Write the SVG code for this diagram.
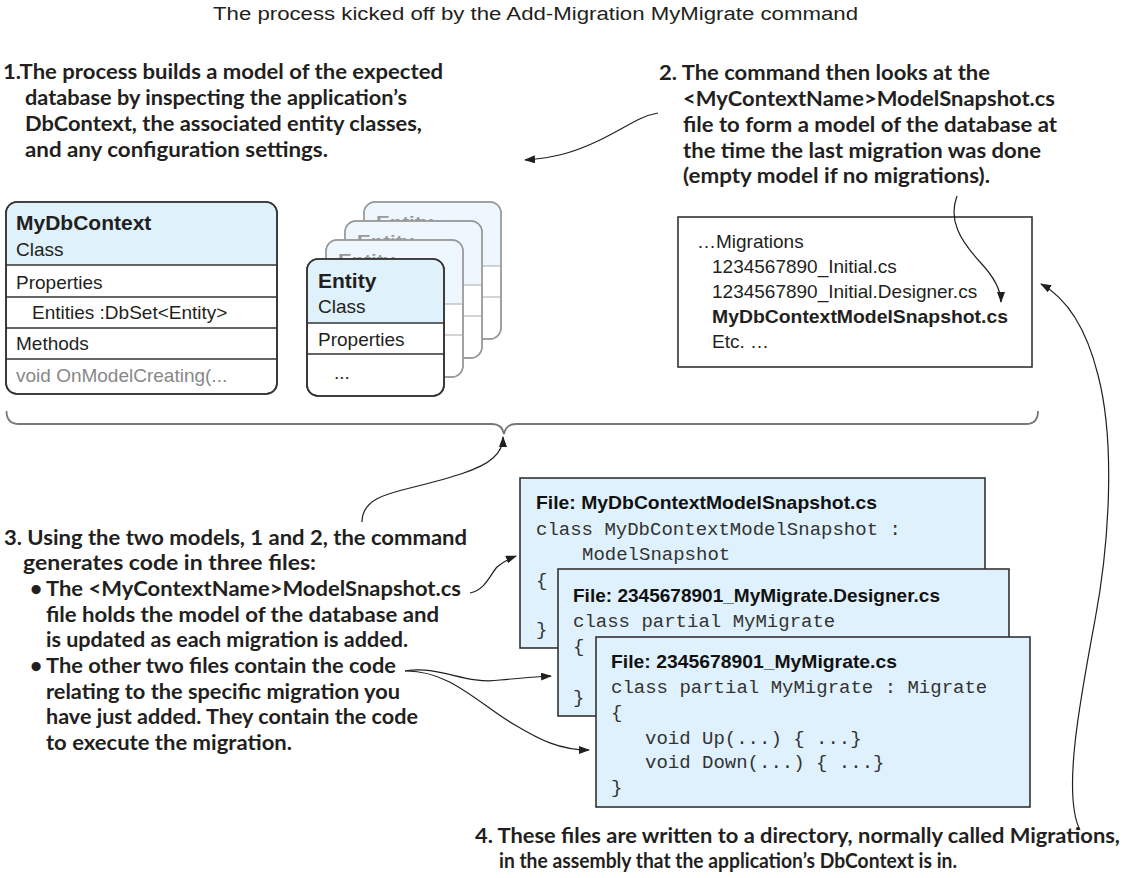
<svg xmlns="http://www.w3.org/2000/svg" width="1131" height="878" viewBox="0 0 1131 878">
<defs>
<style>
.ann{font-family:Lato,"Liberation Sans",sans-serif;font-weight:700;font-size:21px;fill:#231f20}
.ttl{font-family:"Liberation Sans",Arial,sans-serif;font-size:18px;fill:#231f20}
.t{font-family:"Liberation Sans",Arial,sans-serif;font-size:19px;fill:#231f20}
.tb{font-family:"Liberation Sans",Arial,sans-serif;font-size:21px;font-weight:700;fill:#231f20}
.bt{font-family:"Liberation Sans",Arial,sans-serif;font-size:16.5px;font-weight:700;fill:#999}
.fb{font-family:"Liberation Sans",Arial,sans-serif;font-size:19px;font-weight:700;fill:#111}
.m{font-family:"Liberation Mono","Courier New",monospace;font-size:19px;fill:#333}
.gray{fill:#888}
.box{fill:#fff;stroke:#333;stroke-width:1.6}
.hdr{fill:#dff1fb}
.ln{stroke:#333;stroke-width:1.3}
.bbox{fill:#fff;stroke:#999;stroke-width:1.4}
.bhdr{fill:#eef7fd}
.bln{stroke:#aaa;stroke-width:1.2}
.file{fill:#dff1fc;stroke:#333;stroke-width:1.6}
.con{fill:none;stroke:#231f20;stroke-width:1.2}
.brace{fill:none;stroke:#777;stroke-width:1.8}
</style>
<marker id="ah" viewBox="0 0 11 8" refX="10" refY="4" markerWidth="11" markerHeight="8" orient="auto" markerUnits="userSpaceOnUse">
<path d="M0,0 L11,4 L0,8 z" fill="#231f20"/>
</marker>
</defs>
<rect width="1131" height="878" fill="#fff"/>

<text class="ttl" x="213" y="20" textLength="645" lengthAdjust="spacingAndGlyphs">The process kicked off by the Add-Migration MyMigrate command</text>

<g id="note1">
<text class="ann" x="3" y="79" textLength="440" lengthAdjust="spacingAndGlyphs">1.The process builds a model of the expected</text>
<text class="ann" x="25" y="105" textLength="382" lengthAdjust="spacingAndGlyphs">database by inspecting the application’s</text>
<text class="ann" x="25" y="131" textLength="397" lengthAdjust="spacingAndGlyphs">DbContext, the associated entity classes,</text>
<text class="ann" x="25" y="157" textLength="303" lengthAdjust="spacingAndGlyphs">and any configuration settings.</text>
</g>

<g id="note2">
<text class="ann" x="659" y="80" textLength="331" lengthAdjust="spacingAndGlyphs">2. The command then looks at the</text>
<text class="ann" x="683" y="106" textLength="372" lengthAdjust="spacingAndGlyphs">&lt;MyContextName&gt;ModelSnapshot.cs</text>
<text class="ann" x="683" y="132" textLength="374" lengthAdjust="spacingAndGlyphs">file to form a model of the database at</text>
<text class="ann" x="683" y="158" textLength="358" lengthAdjust="spacingAndGlyphs">the time the last migration was done</text>
<text class="ann" x="683" y="183" textLength="307" lengthAdjust="spacingAndGlyphs">(empty model if no migrations).</text>
</g>

<g id="mydbcontext">
<rect class="box" x="6" y="202" width="271" height="192" rx="11"/>
<path class="hdr" d="M6.8,265 V213 A10.2,10.2 0 0 1 17,202.8 H266 A10.2,10.2 0 0 1 276.2,213 V265 Z"/>
<line class="ln" x1="6" y1="265" x2="277" y2="265"/>
<line class="ln" x1="6" y1="297" x2="277" y2="297"/>
<line class="ln" x1="6" y1="328" x2="277" y2="328"/>
<line class="ln" x1="6" y1="359" x2="277" y2="359"/>
<rect x="6" y="202" width="271" height="192" rx="11" fill="none" stroke="#333" stroke-width="1.6"/>
<text class="tb" x="16" y="230">MyDbContext</text>
<text class="t" x="16" y="256">Class</text>
<text class="t" x="16" y="289">Properties</text>
<text class="t" x="32" y="319">Entities :DbSet&lt;Entity&gt;</text>
<text class="t" x="16" y="350">Methods</text>
<text class="t gray" x="16" y="382">void OnModelCreating(...</text>
</g>

<g id="entity-stack">
<g id="entity-back3">
<rect class="bbox" x="364" y="202" width="137" height="137" rx="11"/>
<path class="bhdr" d="M364.7,266 V213 A10.3,10.3 0 0 1 375,202.7 H490 A10.3,10.3 0 0 1 500.3,213 V266 Z"/>
<line class="bln" x1="364" y1="266" x2="501" y2="266"/>
<line class="bln" x1="364" y1="297" x2="501" y2="297"/>
<rect x="364" y="202" width="137" height="137" rx="11" fill="none" stroke="#999" stroke-width="1.4"/>
<text class="bt" x="376" y="228" textLength="57" lengthAdjust="spacingAndGlyphs">Entity</text>
</g>
<g id="entity-back2">
<rect class="bbox" x="345" y="221" width="137" height="137" rx="11"/>
<path class="bhdr" d="M345.7,285 V232 A10.3,10.3 0 0 1 356,221.7 H471 A10.3,10.3 0 0 1 481.3,232 V285 Z"/>
<line class="bln" x1="345" y1="285" x2="482" y2="285"/>
<line class="bln" x1="345" y1="316" x2="482" y2="316"/>
<rect x="345" y="221" width="137" height="137" rx="11" fill="none" stroke="#999" stroke-width="1.4"/>
<text class="bt" x="357" y="247" textLength="57" lengthAdjust="spacingAndGlyphs">Entity</text>
</g>
<g id="entity-back1">
<rect class="bbox" x="326" y="240" width="137" height="137" rx="11"/>
<path class="bhdr" d="M326.7,304 V251 A10.3,10.3 0 0 1 337,240.7 H452 A10.3,10.3 0 0 1 462.3,251 V304 Z"/>
<line class="bln" x1="326" y1="304" x2="463" y2="304"/>
<line class="bln" x1="326" y1="335" x2="463" y2="335"/>
<rect x="326" y="240" width="137" height="137" rx="11" fill="none" stroke="#999" stroke-width="1.4"/>
<text class="bt" x="338" y="266" textLength="57" lengthAdjust="spacingAndGlyphs">Entity</text>
</g>
<g id="entity">
<rect class="box" x="307" y="259" width="137" height="137" rx="11"/>
<path class="hdr" d="M307.8,323 V270 A10.2,10.2 0 0 1 318,259.8 H433 A10.2,10.2 0 0 1 443.2,270 V323 Z"/>
<line class="ln" x1="307" y1="323" x2="444" y2="323"/>
<line class="ln" x1="307" y1="354" x2="444" y2="354"/>
<rect x="307" y="259" width="137" height="137" rx="11" fill="none" stroke="#333" stroke-width="1.6"/>
<text class="tb" x="318" y="288">Entity</text>
<text class="t" x="318" y="313">Class</text>
<text class="t" x="318" y="346">Properties</text>
<text class="t" x="334" y="379">...</text>
</g>
</g>

<g id="migrations-folder">
<rect x="678" y="217" width="354" height="150" fill="#fff" stroke="#333" stroke-width="1.6"/>
<text class="t" x="697" y="248">…Migrations</text>
<text class="t" x="712" y="273">1234567890_Initial.cs</text>
<text class="t" x="712" y="298">1234567890_Initial.Designer.cs</text>
<text class="t" x="712" y="323" font-weight="700" textLength="296" lengthAdjust="spacingAndGlyphs">MyDbContextModelSnapshot.cs</text>
<text class="t" x="712" y="348">Etc. …</text>
</g>

<g id="brace">
<path class="brace" d="M6.5,411 Q6.5,424 19,424 H492 Q502,424 504,434 Q506,424 516,424 H1026 Q1038,424 1038,411"/>
</g>

<g id="note3">
<text class="ann" x="4" y="545" textLength="463" lengthAdjust="spacingAndGlyphs">3. Using the two models, 1 and 2, the command</text>
<text class="ann" x="23" y="570" textLength="293" lengthAdjust="spacingAndGlyphs">generates code in three files:</text>
<text class="ann" x="30" y="596" font-size="17">•</text>
<text class="ann" x="46" y="596" textLength="415" lengthAdjust="spacingAndGlyphs">The &lt;MyContextName&gt;ModelSnapshot.cs</text>
<text class="ann" x="46" y="622" textLength="393" lengthAdjust="spacingAndGlyphs">file holds the model of the database and</text>
<text class="ann" x="46" y="647" textLength="362" lengthAdjust="spacingAndGlyphs">is updated as each migration is added.</text>
<text class="ann" x="30" y="673" font-size="17">•</text>
<text class="ann" x="46" y="673" textLength="350" lengthAdjust="spacingAndGlyphs">The other two files contain the code</text>
<text class="ann" x="46" y="699" textLength="354" lengthAdjust="spacingAndGlyphs">relating to the specific migration you</text>
<text class="ann" x="46" y="724" textLength="372" lengthAdjust="spacingAndGlyphs">have just added. They contain the code</text>
<text class="ann" x="46" y="750" textLength="246" lengthAdjust="spacingAndGlyphs">to execute the migration.</text>
</g>

<g id="file-snapshot">
<rect class="file" x="520" y="478" width="465" height="170"/>
<text class="fb" x="536" y="509" textLength="341" lengthAdjust="spacingAndGlyphs">File: MyDbContextModelSnapshot.cs</text>
<text class="m" x="536" y="535">class MyDbContextModelSnapshot :</text>
<text class="m" x="582" y="560">ModelSnapshot</text>
<text class="m" x="536" y="586">{</text>
<text class="m" x="536" y="635">}</text>
</g>

<g id="file-designer">
<rect class="file" x="558" y="569" width="451" height="147"/>
<text class="fb" x="573" y="602" textLength="367" lengthAdjust="spacingAndGlyphs">File: 2345678901_MyMigrate.Designer.cs</text>
<text class="m" x="573" y="627">class partial MyMigrate</text>
<text class="m" x="573" y="652">{</text>
<text class="m" x="573" y="703">}</text>
</g>

<g id="file-migrate">
<rect class="file" x="596" y="637" width="434" height="170"/>
<text class="fb" x="611" y="668" textLength="286" lengthAdjust="spacingAndGlyphs">File: 2345678901_MyMigrate.cs</text>
<text class="m" x="611" y="693">class partial MyMigrate : Migrate</text>
<text class="m" x="611" y="718">{</text>
<text class="m" x="645" y="744">void Up(...) { ...}</text>
<text class="m" x="645" y="768">void Down(...) { ...}</text>
<text class="m" x="611" y="793">}</text>
</g>

<g id="note4">
<text class="ann" x="475" y="843" textLength="645" lengthAdjust="spacingAndGlyphs">4. These files are written to a directory, normally called Migrations,</text>
<text class="ann" x="499" y="868" textLength="458" lengthAdjust="spacingAndGlyphs">in the assembly that the application’s DbContext is in.</text>
</g>

<g id="connectors">
<path class="con" marker-end="url(#ah)" d="M658,113 C640,116 625,128 600,140 C575,152 555,158 525,160"/>
<path class="con" marker-end="url(#ah)" d="M957,196 C948,220 960,240 980,262 C995,278 1001,290 1001,302"/>
<path class="con" marker-end="url(#ah)" d="M1080,830 C1062,795 1080,700 1095,620 C1110,540 1115,440 1098,375 C1088,335 1070,300 1041,284"/>
<path class="con" marker-end="url(#ah)" d="M362,522 C362,500 385,494 410,488 C450,478 480,470 493,458 C500,452 503,446 503,437"/>
<path class="con" marker-end="url(#ah)" d="M470,593 C485,590 490,575 497,567 C503,562 508,559 516,556"/>
<path class="con" marker-end="url(#ah)" d="M405,671 C440,665 465,685 500,680 C520,678 535,677 551,676"/>
<path class="con" marker-end="url(#ah)" d="M405,671 C450,670 480,705 515,725 C540,740 560,750 589,750"/>
</g>
</svg>
